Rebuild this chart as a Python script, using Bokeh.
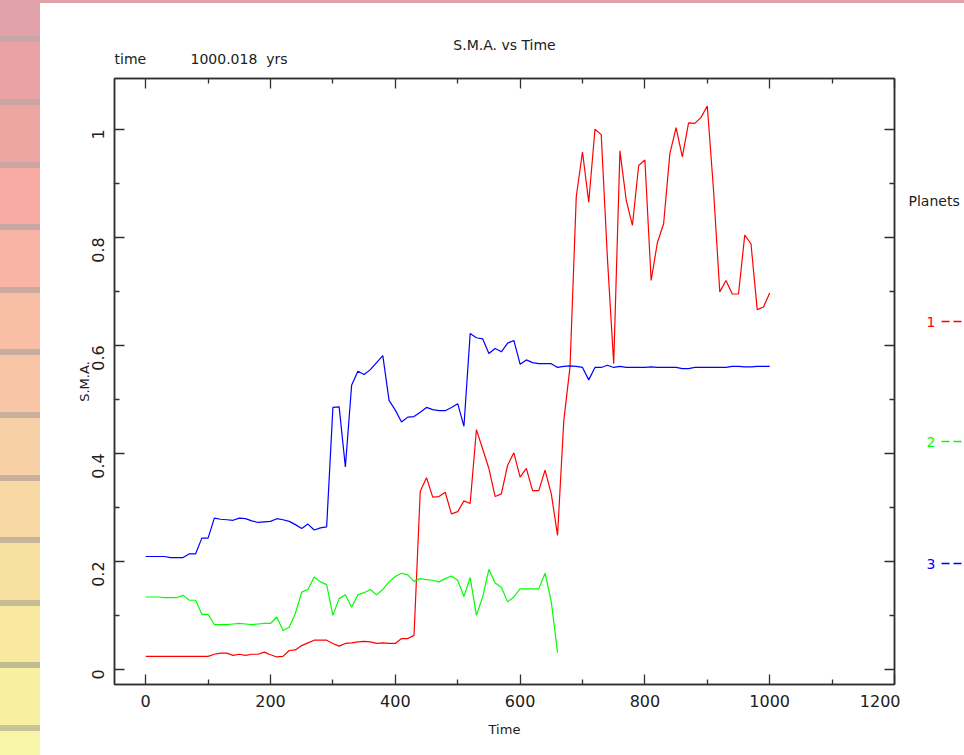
import math
from bokeh.plotting import figure
from bokeh.models import Range1d, LinearAxis, FixedTicker, Div
from bokeh.layouts import row, column
from bokeh.core.properties import value
from bokeh.embed import file_html
from bokeh.resources import INLINE

# ---------------- data ----------------
time = list(range(0, 1001, 10))
time_planet2 = list(range(0, 661, 10))

sma_planet1 = [
    0.024, 0.024, 0.024, 0.024, 0.024, 0.024, 0.024, 0.024, 0.024, 0.024,
    0.024, 0.028, 0.030, 0.030, 0.026, 0.028, 0.026, 0.028, 0.028, 0.032,
    0.027, 0.023, 0.024, 0.035, 0.036, 0.044, 0.049, 0.054, 0.054, 0.054,
    0.048, 0.043, 0.048, 0.049, 0.051, 0.052, 0.051, 0.048, 0.049, 0.048,
    0.048, 0.057, 0.057, 0.063, 0.330, 0.355, 0.319, 0.320, 0.328, 0.288,
    0.292, 0.312, 0.307, 0.444, 0.408, 0.372, 0.320, 0.325, 0.378, 0.401,
    0.356, 0.372, 0.331, 0.331, 0.369, 0.325, 0.248, 0.460, 0.560, 0.875,
    0.958, 0.865, 1.000, 0.990, 0.760, 0.566, 0.960, 0.869, 0.822, 0.933,
    0.943, 0.720, 0.790, 0.825, 0.955, 1.003, 0.949, 1.012, 1.011, 1.022,
    1.043, 0.887, 0.699, 0.720, 0.695, 0.695, 0.804, 0.788, 0.666, 0.671,
    0.697,
]

sma_planet2 = [
    0.134, 0.134, 0.134, 0.133, 0.133, 0.133, 0.137, 0.128, 0.128, 0.102,
    0.102, 0.083, 0.083, 0.083, 0.084, 0.085, 0.084, 0.083, 0.084, 0.085,
    0.085, 0.097, 0.072, 0.078, 0.104, 0.143, 0.148, 0.171, 0.162, 0.157,
    0.100, 0.131, 0.138, 0.115, 0.138, 0.142, 0.148, 0.138, 0.148, 0.162,
    0.172, 0.178, 0.175, 0.163, 0.168, 0.166, 0.165, 0.162, 0.168, 0.173,
    0.165, 0.135, 0.170, 0.100, 0.134, 0.185, 0.160, 0.152, 0.125, 0.134,
    0.149, 0.149, 0.149, 0.149, 0.178, 0.125, 0.031,
]

sma_planet3 = [
    0.209, 0.209, 0.209, 0.209, 0.207, 0.207, 0.207, 0.214, 0.214, 0.243,
    0.243, 0.280, 0.278, 0.277, 0.276, 0.280, 0.279, 0.275, 0.272, 0.273,
    0.274, 0.279, 0.277, 0.274, 0.268, 0.261, 0.269, 0.258, 0.262, 0.264,
    0.485, 0.486, 0.375, 0.526, 0.552, 0.546, 0.555, 0.568, 0.581, 0.498,
    0.480, 0.458, 0.467, 0.468, 0.476, 0.485, 0.481, 0.479, 0.479, 0.485,
    0.492, 0.450, 0.622, 0.614, 0.612, 0.585, 0.594, 0.588, 0.604, 0.609,
    0.565, 0.573, 0.568, 0.566, 0.566, 0.566, 0.559, 0.561, 0.562, 0.561,
    0.559, 0.536, 0.559, 0.559, 0.563, 0.559, 0.561, 0.559, 0.559, 0.559,
    0.559, 0.560, 0.559, 0.559, 0.559, 0.559, 0.557, 0.557, 0.559, 0.559,
    0.559, 0.559, 0.559, 0.559, 0.561, 0.561, 0.560, 0.560, 0.561, 0.561,
    0.561,
]

x_ticks = [0, 200, 400, 600, 800, 1000, 1200]
x_minor_ticks = [100, 300, 500, 700, 900, 1100]
y_ticks = [0, 0.2, 0.4, 0.6, 0.8, 1.0]
y_tick_labels = ["0", "0.2", "0.4", "0.6", "0.8", "1"]
y_minor_ticks = [0.1, 0.3, 0.5, 0.7, 0.9]

planet_names = ["1", "2", "3"]
planet_colors = ["#ff0000", "#00ff00", "#0000ff"]

title_text = "S.M.A. vs Time"
time_label = "time"
time_value = "1000.018\u00a0\u00a0yrs"
legend_title = "Planets"

# decorative page strip (left side of the screenshot)
strip_heights = [36, 6, 57, 6, 57, 6, 56, 6, 57, 6, 56, 6, 57, 6, 57, 6, 56, 6,
                 57, 6, 56, 6, 57, 6, 24]
strip_colors = ["#e2a2aa", "#c8a6aa", "#e8a2a4", "#cca4a4", "#eea6a2", "#cca6a0",
                "#f6aaa2", "#c8a8a4", "#f8b4a4", "#ccaaa0", "#f8bea6", "#c8aca0",
                "#f8c6a6", "#c8b09c", "#f8d0a8", "#c8b09c", "#f8d8a4", "#c8b498",
                "#f8e0a0", "#c8bc94", "#f8e8a0", "#c0bc90", "#f8f0a0", "#c8c498",
                "#f8f4a8"]

FONT = "DejaVu Sans"
INK = "#202020"
FRAME = "#303030"


def panel(width, height, xr, yr, **borders):
    f = figure(width=width, height=height, x_range=xr, y_range=yr,
               output_backend="svg", toolbar_location=None,
               x_axis_location=None, y_axis_location=None,
               outline_line_color=None,
               background_fill_color="white", border_fill_color="white",
               **borders)
    f.grid.visible = False
    return f


# ---------------- decorative page background ----------------
strip_html = "".join(
    f'<div style="height:{h}px;background:{c};width:40px"></div>'
    for h, c in zip(strip_heights, strip_colors))
strip = Div(text=strip_html, width=40, height=755, margin=0,
            styles={"overflow": "hidden", "padding": "0", "margin": "0"})
top_band = Div(text="", width=924, height=3, margin=0,
               styles={"background-color": "#e2a2aa", "padding": "0", "margin": "0"})

# ---------------- heading panel (above the frame) ----------------
head = panel(924, 72, Range1d(40, 964), Range1d(75, 3), min_border=0)
head.text(x=[504], y=[44], text=[title_text], text_color=INK,
          text_font=value(FONT), text_font_size=value("14px"),
          text_baseline="middle", text_align="center")
head.text(x=[114, 190], y=[58, 58], text=[time_label, time_value], text_color=INK,
          text_font=value(FONT), text_font_size=value("14px"),
          text_baseline="middle", text_align="left")

# ---------------- main figure ----------------
p = figure(width=860, height=680,
           x_range=Range1d(-50, 1200), y_range=Range1d(-0.028, 1.094),
           output_backend="svg", toolbar_location=None,
           x_axis_location=None, y_axis_location=None,
           min_border_left=74, min_border_right=6,
           min_border_top=3, min_border_bottom=71,
           outline_line_color=FRAME, outline_line_width=1.5,
           background_fill_color="white", border_fill_color="white")
p.grid.visible = False


def style_axis(ax, show_labels):
    ax.major_tick_in = 10
    ax.major_tick_out = 0
    ax.minor_tick_in = 5
    ax.minor_tick_out = 0
    ax.axis_line_color = FRAME
    ax.axis_line_width = 1.5
    ax.major_tick_line_color = FRAME
    ax.major_tick_line_width = 1.3
    ax.minor_tick_line_color = FRAME
    ax.minor_tick_line_width = 1.3
    ax.major_label_text_font = FONT
    ax.axis_label_text_font = FONT
    ax.axis_label_text_font_style = "normal"
    ax.axis_label_text_color = INK
    ax.axis_label_text_font_size = "13px"
    if show_labels:
        ax.major_label_text_color = INK
        ax.major_label_text_font_size = "16px"
        ax.major_label_standoff = 10
    else:
        ax.major_label_text_color = None
        ax.major_label_text_font_size = "1px"
        ax.major_label_standoff = 0


xb = LinearAxis(ticker=FixedTicker(ticks=x_ticks, minor_ticks=x_minor_ticks), axis_label="Time")
style_axis(xb, True)
xb.axis_label_standoff = 12
p.add_layout(xb, "below")

xt = LinearAxis(ticker=FixedTicker(ticks=x_ticks, minor_ticks=x_minor_ticks))
style_axis(xt, False)
p.add_layout(xt, "above")

yl = LinearAxis(ticker=FixedTicker(ticks=y_ticks, minor_ticks=y_minor_ticks), axis_label="S.M.A.")
style_axis(yl, True)
yl.major_label_orientation = math.pi / 2
yl.major_label_overrides = {t: lab for t, lab in zip(y_ticks, y_tick_labels)}
yl.major_label_standoff = 16
yl.axis_label_standoff = -8
p.add_layout(yl, "left")

yr = LinearAxis(ticker=FixedTicker(ticks=y_ticks, minor_ticks=y_minor_ticks))
style_axis(yr, False)
p.add_layout(yr, "right")

# series
p.line(time, sma_planet1, line_color=planet_colors[0], line_width=1.2)
p.line(time_planet2, sma_planet2, line_color=planet_colors[1], line_width=1.2)
p.line(time, sma_planet3, line_color=planet_colors[2], line_width=1.2)

# ---------------- legend panel (right of the frame) ----------------
lg = panel(64, 680, Range1d(900, 964), Range1d(684, 78),
           min_border_left=0, min_border_right=0,
           min_border_top=3, min_border_bottom=71)
legend_rows_y = [321, 441, 563]
lg.text(x=[908], y=[200], text=[legend_title], text_color=INK,
        text_font=value(FONT), text_font_size=value("14px"),
        text_baseline="middle", text_align="left")
lg.text(x=[926] * 3, y=legend_rows_y, text=planet_names, text_color=planet_colors,
        text_font=value(FONT), text_font_size=value("14px"),
        text_baseline="middle", text_align="left")
lg.segment(x0=[941] * 3, y0=legend_rows_y, x1=[966] * 3, y1=legend_rows_y,
           line_color=planet_colors, line_width=1.4, line_dash="8 4")

layout = row(strip, column(top_band, head, row(p, lg)))
open("out.html", "w").write(file_html(layout, INLINE))
